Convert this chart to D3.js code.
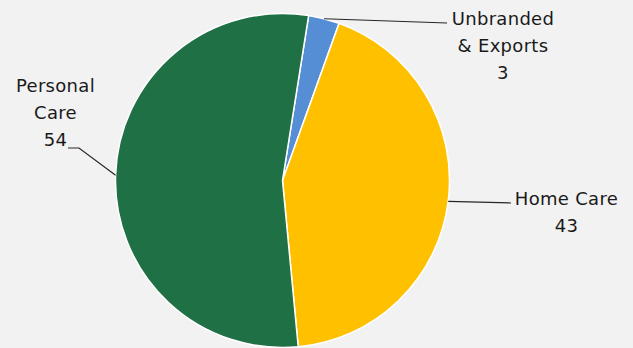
<!DOCTYPE html>
<html>
<head>
<meta charset="utf-8">
<script src="https://cdn.jsdelivr.net/npm/d3@7"></script>
<style>
  body { margin: 0; background: #f2f2f2; }
  svg { display: block; }
  .lbl { font-family: "DejaVu Sans", sans-serif; font-size: 18px; letter-spacing: 0.3px; fill: #1a1a1a; }
</style>
</head>
<body>
<svg id="chart"></svg>
<script>
// data
const categories = ["Unbranded & Exports", "Home Care", "Personal Care"];
const values = [3, 43, 54];
const labelLines = [["Unbranded", "& Exports", "3"], ["Home Care", "43"], ["Personal", "Care", "54"]];
const colors = ["#558ed5", "#ffc000", "#1f7044"];

const width = 633, height = 348;
const cx = 282.5, cy = 180.5, radius = 167;
const startDeg = 9;

// where each label block sits and where the leader line bends
const labelLayout = [
  {x: 503, y: 25, elbow: [447, 23]},
  {x: 566.5, y: 205, elbow: [511, 203]},
  {x: 55.5, y: 92, elbow: [79, 148], tail: [68, 148]}
];

const svg = d3.select("#chart").attr("width", width).attr("height", height);
svg.append("rect").attr("width", width).attr("height", height).attr("fill", "#f2f2f2");

const pie = d3.pie().sort(null)
  .startAngle(startDeg * Math.PI / 180)
  .endAngle(startDeg * Math.PI / 180 + 2 * Math.PI);
const arcs = pie(values);

const arc = d3.arc().innerRadius(0).outerRadius(radius);
const edge = d3.arc().innerRadius(radius).outerRadius(radius);

const g = svg.append("g").attr("transform", `translate(${cx},${cy})`);

g.selectAll("path.slice")
  .data(arcs)
  .join("path")
  .attr("class", "slice")
  .attr("d", arc)
  .attr("fill", (d, i) => colors[i])
  .attr("stroke", "#ffffff")
  .attr("stroke-width", 1.5);

// leader lines
arcs.forEach((d, i) => {
  const p = edge.centroid(d);
  const L = labelLayout[i];
  const pts = [[cx + p[0], cy + p[1]], L.elbow];
  if (L.tail) pts.push(L.tail);
  svg.append("path")
    .attr("d", d3.line()(pts))
    .attr("fill", "none")
    .attr("stroke", "#262626")
    .attr("stroke-width", 1.2);
});

// labels
labelLines.forEach((lines, i) => {
  const L = labelLayout[i];
  const t = svg.append("text").attr("class", "lbl").attr("text-anchor", "middle");
  lines.forEach((s, j) => {
    t.append("tspan").attr("x", L.x).attr("y", L.y + j * 27).text(s);
  });
});
</script>
</body>
</html>
